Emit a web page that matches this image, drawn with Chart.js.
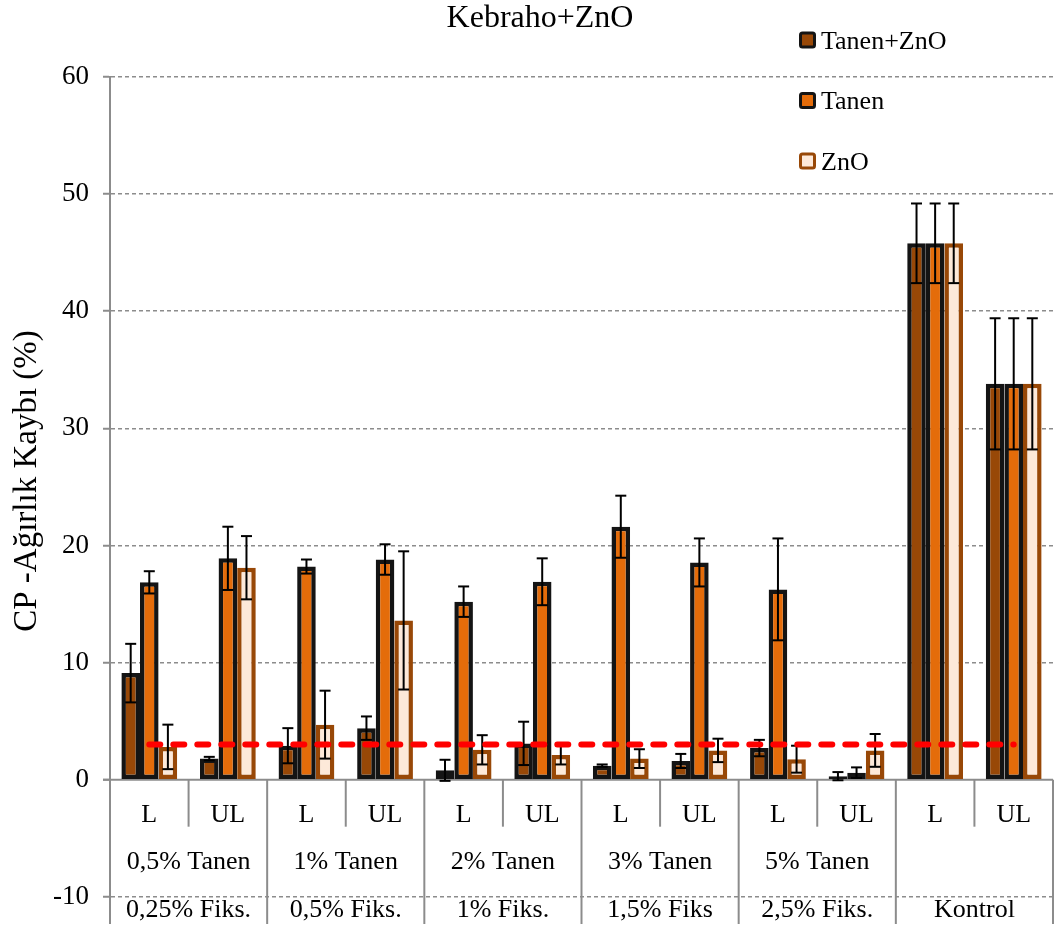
<!DOCTYPE html>
<html lang="tr">
<head>
<meta charset="utf-8">
<title>Kebraho+ZnO</title>
<script src="https://cdn.jsdelivr.net/npm/chart.js@4.4.1/dist/chart.umd.min.js"></script>
<style>
  html, body { margin: 0; padding: 0; background: #fff; }
  canvas { display: block; }
</style>
</head>
<body>
<canvas id="cpChart" width="1055" height="927"></canvas>
<script>
// CP ağırlık kaybı (%) - Kebraho tanen + ZnO

const chartTitle = 'Kebraho+ZnO';
const axisTitle = 'CP -Ağırlık Kaybı (%)';

const categories = ['L', 'UL', 'L', 'UL', 'L', 'UL', 'L', 'UL', 'L', 'UL', 'L', 'UL'];
const doseLabels = ['0,5% Tanen', '1% Tanen', '2% Tanen', '3% Tanen', '5% Tanen', ''];
const fixLabels = ['0,25% Fiks.', '0,5% Fiks.', '1% Fiks.', '1,5% Fiks', '2,5% Fiks.', 'Kontrol'];

const tanenZno    = [9.1, 1.8, 2.9, 4.4, 0.8, 3.1, 1.2, 1.6, 2.7, 0.3, 45.8, 33.8];
const tanenZnoErr = [2.5, 0.15, 1.5, 1.0, 0.9, 1.85, 0.1, 0.6, 0.7, 0.35, 3.4, 5.6];
const tanen       = [16.85, 18.9, 18.2, 18.8, 15.2, 16.9, 21.6, 18.55, 16.25, 0.6, 45.8, 33.8];
const tanenErr    = [0.95, 2.7, 0.6, 1.3, 1.3, 2.0, 2.65, 2.05, 4.35, 0.45, 3.4, 5.6];
const zno         = [2.8, 18.1, 4.7, 13.6, 2.55, 2.1, 1.8, 2.5, 1.75, 2.5, 45.8, 33.8];
const znoErr      = [1.9, 2.7, 2.9, 5.9, 1.25, 0.8, 0.8, 1.0, 1.15, 1.4, 3.4, 5.6];

// %3 sınır çizgisi
const limitLine = [3, 3, 3, 3, 3, 3, 3, 3, 3, 3, 3, 3];

const yTicks = { min: -10, max: 60, step: 10 };

const FONT = "'Liberation Serif', 'Times New Roman', serif";
const GRID = '#8c8c8c';

function strokeLine(ctx, x1, y1, x2, y2) {
    ctx.beginPath();
    ctx.moveTo(x1, y1);
    ctx.lineTo(x2, y2);
    ctx.stroke();
}

// hata çubukları (±)
const errorBars = {
    id: 'errorBars',
    afterDatasetDraw(chart, args) {
        const ds = chart.data.datasets[args.index];
        if (!ds.errors) return;
        const y = chart.scales.y;
        const ctx = chart.ctx;
        ctx.save();
        ctx.strokeStyle = '#000';
        ctx.lineWidth = 2;
        args.meta.data.forEach((bar, i) => {
            const v = ds.data[i];
            const e = ds.errors[i];
            const top = y.getPixelForValue(v + e);
            const bot = y.getPixelForValue(v - e);
            strokeLine(ctx, bar.x, top, bar.x, bot);
            strokeLine(ctx, bar.x - 5.5, top, bar.x + 5.5, top);
            strokeLine(ctx, bar.x - 5.5, bot, bar.x + 5.5, bot);
        });
        ctx.restore();
    }
};

// eksen, kategori etiketleri, başlık ve açıklama
const decorations = {
    id: 'decorations',
    beforeDatasetsDraw(chart) {
        const { ctx, chartArea, scales: { y } } = chart;
        const y0 = y.getPixelForValue(0);
        ctx.save();
        ctx.strokeStyle = GRID;
        ctx.lineWidth = 2;
        strokeLine(ctx, chartArea.left - 7, y0, chartArea.right, y0);
        ctx.restore();
    },
    afterDraw(chart) {
        const { ctx, scales: { x, y } } = chart;
        const y0 = y.getPixelForValue(0);
        const bottom = chart.height - 3;
        const n = categories.length;
        const edge = i => i === 0 ? x.left : i === n ? x.right
            : (x.getPixelForValue(i - 1) + x.getPixelForValue(i)) / 2;

        ctx.save();
        ctx.strokeStyle = GRID;
        ctx.lineWidth = 2;
        for (let i = 0; i <= n; i++) {
            const px = edge(i);
            strokeLine(ctx, px, y0, px, i % 2 === 0 ? bottom : y0 + 47);
        }

        ctx.fillStyle = '#000';
        ctx.textAlign = 'center';
        ctx.textBaseline = 'alphabetic';
        ctx.font = `26px ${FONT}`;
        categories.forEach((c, i) => ctx.fillText(c, x.getPixelForValue(i), 822));
        doseLabels.forEach((t, g) => ctx.fillText(t, edge(2 * g + 1), 869));
        fixLabels.forEach((t, g) => ctx.fillText(t, edge(2 * g + 1), 917));

        ctx.font = `32px ${FONT}`;
        ctx.fillText(chartTitle, 540, 27);

        ctx.save();
        ctx.translate(36, 481);
        ctx.rotate(-Math.PI / 2);
        ctx.font = `33px ${FONT}`;
        ctx.fillText(axisTitle, 0, 0);
        ctx.restore();

        // açıklama kutusu
        const legendY = [40, 100.5, 161];
        ctx.textAlign = 'left';
        ctx.font = `26px ${FONT}`;
        chart.data.datasets.slice(0, 3).forEach((ds, i) => {
            const cy = legendY[i];
            ctx.fillStyle = ds.backgroundColor;
            ctx.strokeStyle = ds.borderColor;
            ctx.lineWidth = 3;
            ctx.beginPath();
            ctx.roundRect(800.5, cy - 7, 14, 14, 2);
            ctx.fill();
            ctx.stroke();
            ctx.fillStyle = '#000';
            ctx.fillText(ds.label, 821, cy + 8.5);
        });
        ctx.restore();
    }
};

const ctx = document.getElementById('cpChart').getContext('2d');

new Chart(ctx, {
    type: 'bar',
    data: {
        labels: categories,
        datasets: [
            {
                label: 'Tanen+ZnO',
                data: tanenZno,
                errors: tanenZnoErr,
                backgroundColor: '#984807',
                borderColor: '#141414',
                borderWidth: 4.5,
                borderSkipped: false
            },
            {
                label: 'Tanen',
                data: tanen,
                errors: tanenErr,
                backgroundColor: '#E46C0A',
                borderColor: '#141414',
                borderWidth: 4.5,
                borderSkipped: false
            },
            {
                label: 'ZnO',
                data: zno,
                errors: znoErr,
                backgroundColor: '#FDE9D9',
                borderColor: '#984807',
                borderWidth: 4.5,
                borderSkipped: false
            },
            {
                type: 'line',
                label: 'limit',
                data: limitLine,
                borderColor: '#FF0000',
                borderWidth: 6,
                borderDash: [11, 13],
                borderCapStyle: 'round',
                pointRadius: 0,
                fill: false,
                order: -1
            }
        ]
    },
    options: {
        responsive: false,
        animation: false,
        layout: { padding: { top: 77, right: 2, bottom: 27, left: 0 } },
        datasets: {
            bar: { categoryPercentage: 0.71, barPercentage: 1.0 }
        },
        plugins: {
            legend: { display: false },
            title: { display: false },
            tooltip: { enabled: false }
        },
        scales: {
            x: { display: false },
            y: {
                min: yTicks.min,
                max: yTicks.max,
                afterFit: scale => { scale.width = 110; },
                ticks: {
                    stepSize: yTicks.step,
                    color: '#000',
                    padding: 14,
                    font: { family: FONT, size: 27 }
                },
                grid: {
                    color: c => (c.tick && c.tick.value === 0) ? 'rgba(0,0,0,0)' : GRID,
                    lineWidth: 1.5,
                    tickLength: 7,
                    tickColor: GRID,
                    tickWidth: 2
                },
                border: { display: true, color: GRID, width: 2, dash: [4, 3] }
            }
        }
    },
    plugins: [errorBars, decorations]
});
</script>
</body>
</html>
